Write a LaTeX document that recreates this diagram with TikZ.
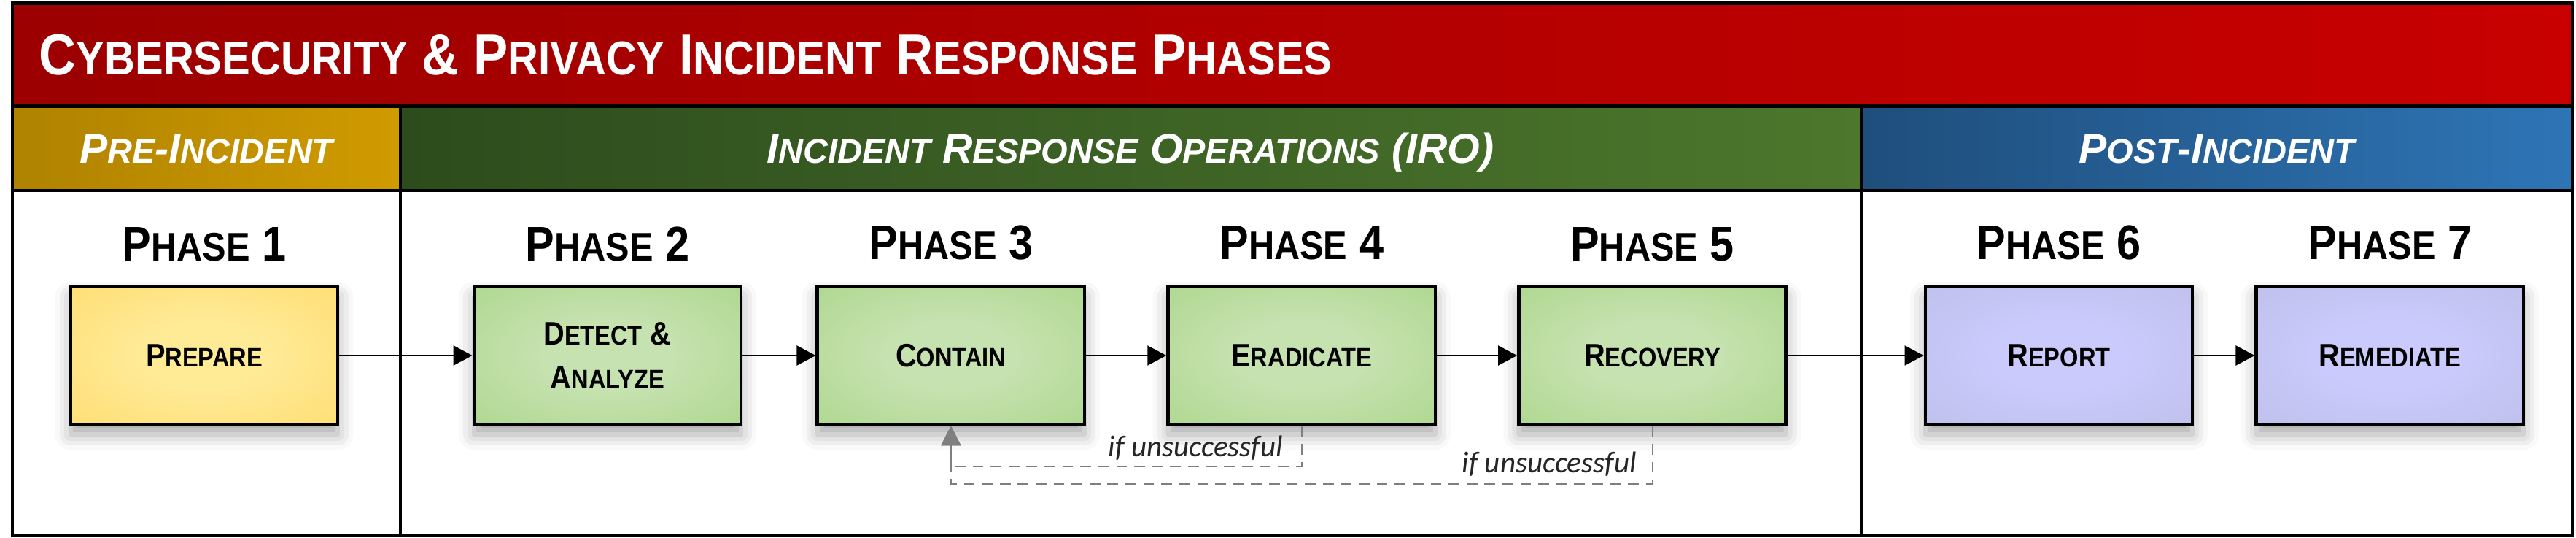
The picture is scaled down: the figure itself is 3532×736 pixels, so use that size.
\documentclass[tikz,border=0pt]{standalone}
\usepackage{fontspec}
\setmainfont{Liberation Sans}
\newfontfamily\condfont[FakeStretch=0.89]{Liberation Sans}
\newfontfamily\notefont{Carlito}
\usepackage{xcolor}
\usetikzlibrary{positioning, arrows.meta, shadows.blur}

\definecolor{titleL}{HTML}{9C0000}
\definecolor{titleM}{HTML}{BC0000}
\definecolor{titleR}{HTML}{C80000}
\definecolor{preL}{HTML}{AF8200}
\definecolor{preR}{HTML}{D09B00}
\definecolor{iroL}{HTML}{2D4C1D}
\definecolor{iroR}{HTML}{4C772C}
\definecolor{postL}{HTML}{1F4E7C}
\definecolor{postR}{HTML}{2E75B6}
\definecolor{prepIn}{HTML}{FFEA96}
\definecolor{prepOut}{HTML}{FFD862}
\definecolor{iroIn}{HTML}{C6E2B0}
\definecolor{iroOut}{HTML}{A2D27E}
\definecolor{postIn}{HTML}{CACAFC}
\definecolor{postOut}{HTML}{BBBBE4}
\definecolor{retrygray}{HTML}{7F7F7F}
\definecolor{notegray}{HTML}{262626}

\pgfdeclareradialshading{prepglow}{\pgfpointorigin}{color(0bp)=(prepIn); color(12bp)=(prepIn); color(50bp)=(prepOut); color(72bp)=(prepOut)}
\pgfdeclareradialshading{iroglow}{\pgfpointorigin}{color(0bp)=(iroIn); color(12bp)=(iroIn); color(50bp)=(iroOut); color(72bp)=(iroOut)}
\pgfdeclareradialshading{postglow}{\pgfpointorigin}{color(0bp)=(postIn); color(12bp)=(postIn); color(50bp)=(postOut); color(72bp)=(postOut)}

% fake small caps: first letter full size, the rest smaller
\makeatletter
\newcommand\sct[2]{#1{\fontsize{\fpeval{0.82*\f@size}}{\f@baselineskip}\selectfont #2}}
\makeatother

\begin{document}
\begin{tikzpicture}[
    x=0.01cm, y=-0.01cm,
    frame/.style={draw=black, line width=1.4pt},
    divline/.style={draw=black, line width=1.25pt},
    titletext/.style={text=white, inner sep=0pt, font=\condfont\bfseries\fontsize{22.6}{27}\selectfont},
    headtext/.style={text=white, inner sep=0pt, font=\bfseries\itshape\fontsize{16.3}{20}\selectfont},
    phasetext/.style={inner sep=0pt, font=\condfont\bfseries\fontsize{19}{23}\selectfont},
    phasebox/.style={draw=black, line width=1.3pt, shade, minimum width=3.66cm, minimum height=1.88cm,
        align=center, font=\condfont\bfseries\fontsize{12.7}{17}\selectfont,
        blur shadow={shadow xshift=0pt, shadow yshift=-4pt, shadow blur radius=6pt, shadow opacity=35}},
    prepbox/.style={phasebox, shading=prepglow},
    irobox/.style={phasebox, shading=iroglow},
    postbox/.style={phasebox, shading=postglow},
    flow/.style={draw=black, line width=0.6pt, -{Triangle[length=7.4pt, width=7.7pt]}},
    retry/.style={draw=retrygray, line width=0.6pt, dash pattern=on 4.2pt off 2.8pt,
        -{Triangle[length=7.7pt, width=7.7pt]}},
    note/.style={inner sep=0pt, text=notegray, font=\notefont\itshape\fontsize{11.7}{13}\selectfont}
]
\useasboundingbox (0,0) rectangle (3532,736);

% banner and group headers
\shade[left color=titleL, middle color=titleM, right color=titleR] (17,4.5) rectangle (3527,145.5);
\shade[left color=preL, right color=preR] (17,145.5) rectangle (549,261);
\shade[left color=iroL, right color=iroR] (549,145.5) rectangle (2552,261);
\shade[left color=postL, right color=postR] (2552,145.5) rectangle (3527,261);

\node[titletext, anchor=base west] (title) at (53,102)
    {\sct{C}{YBERSECURITY} \& \sct{P}{RIVACY} \sct{I}{NCIDENT} \sct{R}{ESPONSE} \sct{P}{HASES}};
\node[headtext, anchor=base] (hpre) at (283,223) {\sct{P}{RE}-\sct{I}{NCIDENT}};
\node[headtext, anchor=base] (hiro) at (1550,223)
    {\sct{I}{NCIDENT} \sct{R}{ESPONSE} \sct{O}{PERATIONS} (IRO)};
\node[headtext, anchor=base] (hpost) at (3040,223) {\sct{P}{OST}-\sct{I}{NCIDENT}};

% phase boxes
\node[prepbox] (p1) at (280,487) {\sct{P}{REPARE}};
\node[irobox] (p2) at (833,487) {\sct{D}{ETECT} \&\\\sct{A}{NALYZE}};
\node[irobox, right=1.0cm of p2] (p3) {\sct{C}{ONTAIN}};
\node[irobox, right=1.1cm of p3] (p4) {\sct{E}{RADICATE}};
\node[irobox, right=1.1cm of p4] (p5) {\sct{R}{ECOVERY}};
\node[postbox] (p6) at (2823,487) {\sct{R}{EPORT}};
\node[postbox, right=0.83cm of p6] (p7) {\sct{R}{EMEDIATE}};

\node[phasetext, anchor=base] (t1) at ([yshift=0.33cm]p1.north) {\sct{P}{HASE} 1};
\node[phasetext, anchor=base] (t2) at ([yshift=0.33cm]p2.north) {\sct{P}{HASE} 2};
\node[phasetext, anchor=base] (t3) at ([yshift=0.35cm]p3.north) {\sct{P}{HASE} 3};
\node[phasetext, anchor=base] (t4) at ([yshift=0.35cm]p4.north) {\sct{P}{HASE} 4};
\node[phasetext, anchor=base] (t5) at ([yshift=0.33cm]p5.north) {\sct{P}{HASE} 5};
\node[phasetext, anchor=base] (t6) at ([yshift=0.35cm]p6.north) {\sct{P}{HASE} 6};
\node[phasetext, anchor=base] (t7) at ([yshift=0.35cm]p7.north) {\sct{P}{HASE} 7};

% main flow
\draw[flow] (p1) -- (p2);
\draw[flow] (p2) -- (p3);
\draw[flow] (p3) -- (p4);
\draw[flow] (p4) -- (p5);
\draw[flow] (p5) -- (p6);
\draw[flow] (p6) -- (p7);

% loops back to containment
\draw[retry] (p4.south) -- ++(0,56) coordinate (r4) -| (p3.south);
\draw[retry] (p5.south) -- ++(0,80) coordinate (r5) -| (p3.south);
\node[note, anchor=base east] (n4) at ([xshift=-0.25cm, yshift=0.14cm]r4) {if unsuccessful};
\node[note, anchor=base east] (n5) at ([xshift=-0.21cm, yshift=0.16cm]r5) {if unsuccessful};

% frame and dividers
\draw[frame] (17,145.5) -- (3527,145.5);
\draw[frame] (17,261) -- (3527,261);
\draw[divline] (549,145.5) -- (549,733);
\draw[divline] (2552,145.5) -- (2552,733);
\draw[frame] (17,4.5) rectangle (3527,733);
\end{tikzpicture}
\end{document}
